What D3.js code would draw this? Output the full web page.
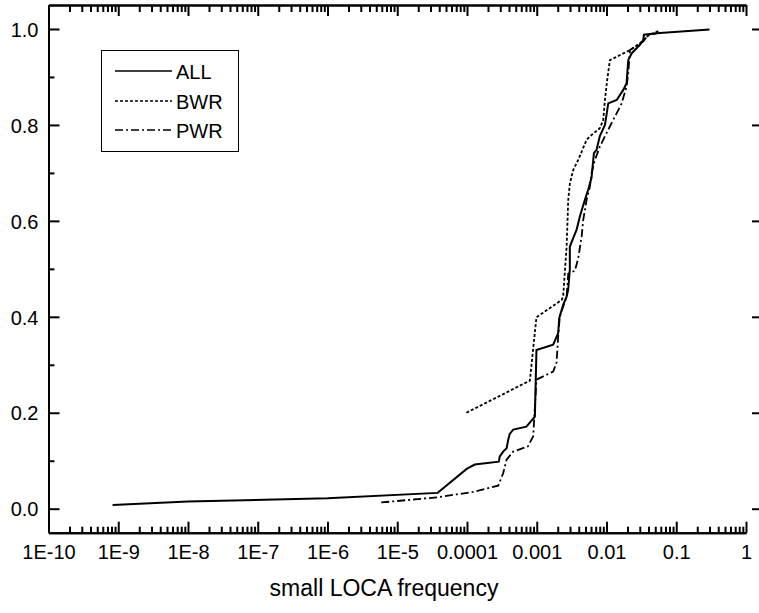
<!DOCTYPE html>
<html>
<head>
<meta charset="utf-8">
<script src="https://cdn.jsdelivr.net/npm/d3@7"></script>
<style>
  body { margin: 0; background: #fff; }
  text { font-family: "Liberation Sans", Arial, sans-serif; fill: #000; }
</style>
</head>
<body>
<div id="container"></div>
<script>
/* DATA */
// x tick labels, one per decade
const xTickValues = [1e-10, 1e-9, 1e-8, 1e-7, 1e-6, 1e-5, 1e-4, 1e-3, 1e-2, 1e-1, 1];
const xTickLabels = ["1E-10", "1E-9", "1E-8", "1E-7", "1E-6", "1E-5", "0.0001", "0.001", "0.01", "0.1", "1"];
const yTickValues = [0, 0.2, 0.4, 0.6, 0.8, 1.0];
const yMinorValues = [0.1, 0.3, 0.5, 0.7, 0.9];

const seriesNames = ["ALL", "BWR", "PWR"];

// ALL (solid)
const allFreq = [8.3e-10, 1e-8, 1e-6, 3.8e-5, 9.9e-5, 1.29e-4, 2.86e-4, 2.95e-4, 3.3e-4, 3.7e-4, 3.9e-4, 4.1e-4, 4.6e-4,
  7.1e-4, 9.4e-4, 9.9e-4, 1.72e-3, 2.03e-3, 2.1e-3, 2.39e-3, 2.68e-3, 2.82e-3, 2.98e-3, 2.98e-3, 3.33e-3, 3.72e-3,
  4.15e-3, 4.9e-3, 5.46e-3, 6.1e-3, 6.6e-3, 7.2e-3, 8.0e-3, 9.5e-3, 0.0106, 0.0140, 0.0174, 0.0194, 0.0205, 0.0229,
  0.0301, 0.0336, 0.0344, 0.052, 0.30];
const allCum = [0.008, 0.015, 0.022, 0.033, 0.083, 0.092, 0.098, 0.109, 0.119, 0.126, 0.144, 0.156, 0.165,
  0.171, 0.192, 0.331, 0.342, 0.366, 0.397, 0.425, 0.442, 0.456, 0.498, 0.546, 0.564, 0.581,
  0.609, 0.644, 0.665, 0.690, 0.741, 0.748, 0.776, 0.800, 0.845, 0.852, 0.873, 0.887, 0.935, 0.949,
  0.967, 0.977, 0.988, 0.991, 0.999];

// BWR (dotted)
const bwrFreq = [9.8e-5, 7.96e-4, 9.9e-4, 2.27e-3, 2.39e-3, 2.68e-3, 2.83e-3, 2.99e-3, 3.33e-3, 3.93e-3, 5.18e-3,
  6.1e-3, 8.0e-3, 8.97e-3, 9.5e-3, 0.01023, 0.0112, 0.0217, 0.0301, 0.0376, 0.0468, 0.0583];
const bwrCum = [0.200, 0.267, 0.399, 0.435, 0.442, 0.546, 0.644, 0.679, 0.706, 0.727, 0.769,
  0.779, 0.793, 0.810, 0.852, 0.894, 0.935, 0.956, 0.970, 0.984, 0.991, 0.997];

// PWR (dash-dot)
const pwrFreq = [5.9e-6, 3.85e-5, 1.22e-4, 2.8e-4, 3.3e-4, 3.69e-4, 4.58e-4, 7.5e-4, 8.9e-4, 9.9e-4, 1.72e-3, 1.92e-3,
  2.03e-3, 2.14e-3, 2.39e-3, 2.68e-3, 2.83e-3, 3.52e-3, 3.93e-3, 4.40e-3, 4.64e-3, 5.18e-3, 5.78e-3, 6.1e-3,
  6.82e-3, 8.04e-3, 8.97e-3, 0.01002, 0.01183, 0.01396, 0.0165, 0.0194, 0.0205, 0.0217, 0.0256, 0.0336, 0.0396, 0.052];
const pwrCum = [0.013, 0.024, 0.035, 0.048, 0.074, 0.102, 0.119, 0.130, 0.151, 0.269, 0.286, 0.304,
  0.359, 0.401, 0.421, 0.442, 0.490, 0.496, 0.522, 0.567, 0.602, 0.644, 0.671, 0.699,
  0.727, 0.755, 0.769, 0.783, 0.804, 0.824, 0.845, 0.880, 0.908, 0.956, 0.963, 0.974, 0.9875, 0.991];

/* LAYOUT */
const W = 759, H = 613;
const plot = { left: 48.5, right: 746, top: 5, bottom: 532.7 };

const xScale = d3.scaleLog().domain([1e-10, 1]).range([plot.left, plot.right]);
const yScale = d3.scaleLinear().domain([-0.05, 1.05]).range([plot.bottom, plot.top]);

// minor x ticks 2..9 in each decade
const xMinor = [];
xTickValues.slice(0, -1).forEach(d => { for (let k = 2; k <= 9; k++) xMinor.push(d * k); });

const svg = d3.select("#container").append("svg")
  .attr("width", W).attr("height", H);

function styleAxis(g) {
  g.selectAll("path.domain").attr("stroke", "#000").attr("stroke-width", 2);
  g.selectAll(".tick line").attr("stroke", "#000").attr("stroke-width", 2);
  g.selectAll("text").attr("font-size", 20).attr("font-family", "Liberation Sans, Arial, sans-serif");
}

// bottom axis
svg.append("g")
  .attr("transform", `translate(0,${plot.bottom})`)
  .call(d3.axisBottom(xScale).tickValues(xMinor).tickSize(-6).tickFormat("").tickSizeOuter(0))
  .call(styleAxis);
svg.append("g")
  .attr("transform", `translate(0,${plot.bottom})`)
  .call(d3.axisBottom(xScale).tickValues(xTickValues).tickSize(-11).tickSizeOuter(0).tickPadding(12)
    .tickFormat((d, i) => xTickLabels[i]))
  .call(styleAxis);

// top axis
svg.append("g")
  .attr("transform", `translate(0,${plot.top})`)
  .call(d3.axisTop(xScale).tickValues(xMinor).tickSize(-7).tickFormat("").tickSizeOuter(0))
  .call(styleAxis);
svg.append("g")
  .attr("transform", `translate(0,${plot.top})`)
  .call(d3.axisTop(xScale).tickValues(xTickValues).tickSize(-11).tickFormat("").tickSizeOuter(0))
  .call(styleAxis);

// left axis
svg.append("g")
  .attr("transform", `translate(${plot.left},0)`)
  .call(d3.axisLeft(yScale).tickValues(yMinorValues).tickSize(-6).tickFormat("").tickSizeOuter(0))
  .call(styleAxis);
const yAxis = svg.append("g")
  .attr("transform", `translate(${plot.left},0)`)
  .call(d3.axisLeft(yScale).tickValues(yTickValues).tickSize(-11).tickSizeOuter(0).tickPadding(10)
    .tickFormat(d3.format(".1f")))
  .call(styleAxis);
yAxis.selectAll("text").attr("dy", "0.36em");

// right ticks only (axis line sits just past the image edge)
const rightAxis = svg.append("g")
  .attr("transform", `translate(${W + 1},0)`)
  .call(d3.axisRight(yScale).tickValues(yTickValues).tickSize(-8).tickFormat("").tickSizeOuter(0))
  .call(styleAxis);
rightAxis.select("path.domain").remove();

// x title
svg.append("text")
  .attr("x", 384).attr("y", 596)
  .attr("text-anchor", "middle")
  .attr("font-size", 23)
  .text("small LOCA frequency");

/* CURVES */
const dashes = { ALL: null, BWR: "3,2", PWR: "8,3,2,3" };
const seriesData = {
  ALL: allFreq.map((f, i) => [f, allCum[i]]),
  BWR: bwrFreq.map((f, i) => [f, bwrCum[i]]),
  PWR: pwrFreq.map((f, i) => [f, pwrCum[i]])
};
const line = d3.line().x(d => xScale(d[0])).y(d => yScale(d[1]));

seriesNames.forEach(name => {
  svg.append("path")
    .datum(seriesData[name])
    .attr("d", line)
    .attr("fill", "none")
    .attr("stroke", "#000")
    .attr("stroke-width", name === "ALL" ? 2 : 1.8)
    .attr("stroke-dasharray", dashes[name]);
});

/* LEGEND */
const legend = svg.append("g");
legend.append("rect")
  .attr("x", 101.5).attr("y", 50.5).attr("width", 137).attr("height", 101)
  .attr("fill", "#fff").attr("stroke", "#000").attr("stroke-width", 1);
const legendY = [71, 101, 130];
seriesNames.forEach((name, i) => {
  legend.append("line")
    .attr("x1", 115).attr("x2", 172)
    .attr("y1", legendY[i]).attr("y2", legendY[i])
    .attr("stroke", "#000").attr("stroke-width", 1.6)
    .attr("stroke-dasharray", dashes[name]);
  legend.append("text")
    .attr("x", 176).attr("y", legendY[i] + 8)
    .attr("font-size", 20)
    .text(name);
});
</script>
</body>
</html>
